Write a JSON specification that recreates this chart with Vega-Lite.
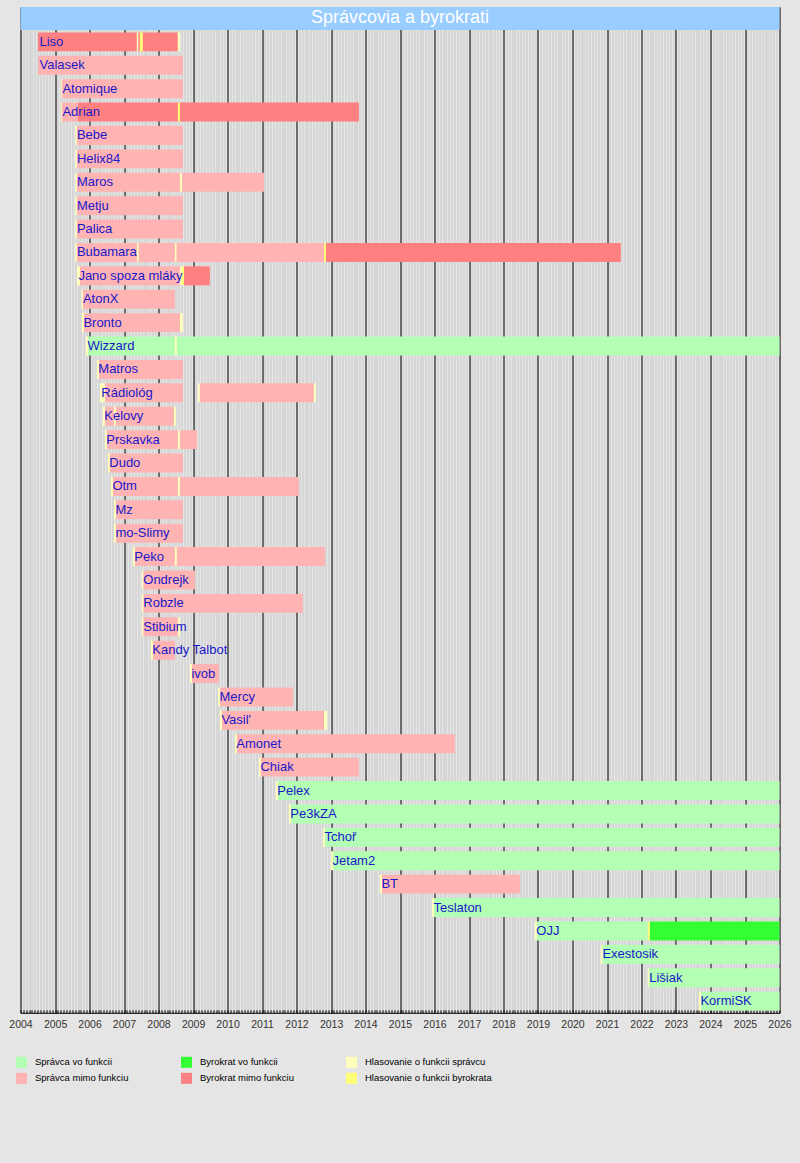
{
  "$schema": "https://vega.github.io/schema/vega-lite/v6.json",
  "width": 759,
  "height": 1006,
  "autosize": {"type": "none"},
  "padding": {"left": 20.5, "top": 6.8, "right": 20.5, "bottom": 150.2},
  "background": "#e5e5e5",
  "config": {"view": {"stroke": null}, "font": "Liberation Sans"},
  "datasets": {
    "bars": [
      {"name": "Liso", "start": "2004-07-04", "end": "2008-07-24", "type": "Byrokrat mimo funkciu"},
      {"name": "Valasek", "start": "2004-07-04", "end": "2008-09-16", "type": "Správca mimo funkciu"},
      {"name": "Atomique", "start": "2005-03-13", "end": "2008-09-16", "type": "Správca mimo funkciu"},
      {"name": "Adrian", "start": "2005-03-13", "end": "2005-09-01", "type": "Správca mimo funkciu"},
      {"name": "Adrian", "start": "2005-09-01", "end": "2013-10-23", "type": "Byrokrat mimo funkciu"},
      {"name": "Bebe", "start": "2005-08-20", "end": "2008-09-16", "type": "Správca mimo funkciu"},
      {"name": "Helix84", "start": "2005-08-20", "end": "2008-09-16", "type": "Správca mimo funkciu"},
      {"name": "Maros", "start": "2005-08-20", "end": "2011-01-22", "type": "Správca mimo funkciu"},
      {"name": "Metju", "start": "2005-08-20", "end": "2008-09-16", "type": "Správca mimo funkciu"},
      {"name": "Palica", "start": "2005-08-20", "end": "2008-09-16", "type": "Správca mimo funkciu"},
      {"name": "Bubamara", "start": "2005-08-20", "end": "2012-11-08", "type": "Správca mimo funkciu"},
      {"name": "Bubamara", "start": "2012-11-08", "end": "2021-05-27", "type": "Byrokrat mimo funkciu"},
      {"name": "Jano spoza mláky", "start": "2005-09-22", "end": "2008-08-15", "type": "Správca mimo funkciu"},
      {"name": "Jano spoza mláky", "start": "2008-09-27", "end": "2009-06-28", "type": "Byrokrat mimo funkciu"},
      {"name": "AtonX", "start": "2005-10-23", "end": "2008-06-23", "type": "Správca mimo funkciu"},
      {"name": "Bronto", "start": "2005-11-03", "end": "2008-09-16", "type": "Správca mimo funkciu"},
      {"name": "Wizzard", "start": "2005-12-15", "end": "2026-01-01", "type": "Správca vo funkcii"},
      {"name": "Matros", "start": "2006-04-10", "end": "2008-09-16", "type": "Správca mimo funkciu"},
      {"name": "Rádiológ", "start": "2006-06-12", "end": "2008-09-16", "type": "Správca mimo funkciu"},
      {"name": "Rádiológ", "start": "2009-03-13", "end": "2012-07-03", "type": "Správca mimo funkciu"},
      {"name": "Kelovy", "start": "2006-06-12", "end": "2008-06-12", "type": "Správca mimo funkciu"},
      {"name": "Prskavka", "start": "2006-07-03", "end": "2009-02-12", "type": "Správca mimo funkciu"},
      {"name": "Dudo", "start": "2006-08-04", "end": "2008-09-16", "type": "Správca mimo funkciu"},
      {"name": "Otm", "start": "2006-09-06", "end": "2012-01-27", "type": "Správca mimo funkciu"},
      {"name": "Mz", "start": "2006-10-07", "end": "2008-09-16", "type": "Správca mimo funkciu"},
      {"name": "mo-Slimy", "start": "2006-10-07", "end": "2008-09-16", "type": "Správca mimo funkciu"},
      {"name": "Peko", "start": "2007-04-25", "end": "2012-10-28", "type": "Správca mimo funkciu"},
      {"name": "Ondrejk", "start": "2007-07-24", "end": "2009-01-22", "type": "Správca mimo funkciu"},
      {"name": "Robzle", "start": "2007-07-24", "end": "2012-03-08", "type": "Správca mimo funkciu"},
      {"name": "Stibium", "start": "2007-07-24", "end": "2008-07-24", "type": "Správca mimo funkciu"},
      {"name": "Kandy Talbot", "start": "2007-11-03", "end": "2008-06-23", "type": "Správca mimo funkciu"},
      {"name": "ivob", "start": "2008-12-20", "end": "2009-10-02", "type": "Správca mimo funkciu"},
      {"name": "Mercy", "start": "2009-10-12", "end": "2011-11-24", "type": "Správca mimo funkciu"},
      {"name": "Vasil'", "start": "2009-11-03", "end": "2012-10-18", "type": "Správca mimo funkciu"},
      {"name": "Amonet", "start": "2010-04-10", "end": "2016-08-04", "type": "Správca mimo funkciu"},
      {"name": "Chiak", "start": "2010-12-20", "end": "2013-10-23", "type": "Správca mimo funkciu"},
      {"name": "Pelex", "start": "2011-06-18", "end": "2026-01-01", "type": "Správca vo funkcii"},
      {"name": "Pe3kZA", "start": "2011-11-03", "end": "2026-01-01", "type": "Správca vo funkcii"},
      {"name": "Tchoř", "start": "2012-10-28", "end": "2026-01-01", "type": "Správca vo funkcii"},
      {"name": "Jetam2", "start": "2013-01-22", "end": "2026-01-01", "type": "Správca vo funkcii"},
      {"name": "BT", "start": "2014-06-23", "end": "2018-06-23", "type": "Správca mimo funkciu"},
      {"name": "Teslaton", "start": "2015-12-26", "end": "2026-01-01", "type": "Správca vo funkcii"},
      {"name": "OJJ", "start": "2018-12-20", "end": "2022-03-08", "type": "Správca vo funkcii"},
      {"name": "OJJ", "start": "2022-03-29", "end": "2026-01-01", "type": "Byrokrat vo funkcii"},
      {"name": "Exestosik", "start": "2020-11-14", "end": "2026-01-01", "type": "Správca vo funkcii"},
      {"name": "Lišiak", "start": "2022-03-22", "end": "2026-01-01", "type": "Správca vo funkcii"},
      {"name": "KormiSK", "start": "2023-09-22", "end": "2026-01-01", "type": "Správca vo funkcii"},

      {"name": "Liso", "start": "2007-05-16", "end": "2007-06-02", "type": "Hlasovanie o funkcii správcu"},
      {"name": "Liso", "start": "2007-06-18", "end": "2007-07-19", "type": "Hlasovanie o funkcii byrokrata"},
      {"name": "Liso", "start": "2008-07-24", "end": "2008-08-15", "type": "Hlasovanie o funkcii správcu"},
      {"name": "Atomique", "start": "2005-03-04", "end": "2005-03-13", "type": "Hlasovanie o funkcii správcu"},
      {"name": "Adrian", "start": "2005-03-04", "end": "2005-03-13", "type": "Hlasovanie o funkcii správcu"},
      {"name": "Adrian", "start": "2008-07-24", "end": "2008-08-15", "type": "Hlasovanie o funkcii byrokrata"},
      {"name": "Bebe", "start": "2005-08-04", "end": "2005-08-20", "type": "Hlasovanie o funkcii správcu"},
      {"name": "Helix84", "start": "2005-08-04", "end": "2005-08-20", "type": "Hlasovanie o funkcii správcu"},
      {"name": "Maros", "start": "2005-08-04", "end": "2005-08-20", "type": "Hlasovanie o funkcii správcu"},
      {"name": "Maros", "start": "2008-08-15", "end": "2008-09-06", "type": "Hlasovanie o funkcii správcu"},
      {"name": "Metju", "start": "2005-08-04", "end": "2005-08-20", "type": "Hlasovanie o funkcii správcu"},
      {"name": "Palica", "start": "2005-08-04", "end": "2005-08-20", "type": "Hlasovanie o funkcii správcu"},
      {"name": "Bubamara", "start": "2005-08-04", "end": "2005-08-20", "type": "Hlasovanie o funkcii správcu"},
      {"name": "Bubamara", "start": "2007-05-18", "end": "2007-06-05", "type": "Hlasovanie o funkcii správcu"},
      {"name": "Bubamara", "start": "2008-06-23", "end": "2008-07-10", "type": "Hlasovanie o funkcii správcu"},
      {"name": "Bubamara", "start": "2012-10-18", "end": "2012-11-08", "type": "Hlasovanie o funkcii byrokrata"},
      {"name": "Jano spoza mláky", "start": "2005-08-20", "end": "2005-09-22", "type": "Hlasovanie o funkcii správcu"},
      {"name": "Jano spoza mláky", "start": "2008-08-15", "end": "2008-09-06", "type": "Hlasovanie o funkcii správcu"},
      {"name": "Jano spoza mláky", "start": "2008-09-06", "end": "2008-09-27", "type": "Hlasovanie o funkcii byrokrata"},
      {"name": "AtonX", "start": "2005-10-07", "end": "2005-10-23", "type": "Hlasovanie o funkcii správcu"},
      {"name": "Bronto", "start": "2005-10-12", "end": "2005-11-03", "type": "Hlasovanie o funkcii správcu"},
      {"name": "Bronto", "start": "2008-08-15", "end": "2008-09-16", "type": "Hlasovanie o funkcii správcu"},
      {"name": "Wizzard", "start": "2005-11-24", "end": "2005-12-15", "type": "Hlasovanie o funkcii správcu"},
      {"name": "Wizzard", "start": "2008-06-23", "end": "2008-07-13", "type": "Hlasovanie o funkcii správcu"},
      {"name": "Matros", "start": "2006-03-19", "end": "2006-04-10", "type": "Hlasovanie o funkcii správcu"},
      {"name": "Rádiológ", "start": "2006-04-20", "end": "2006-06-12", "type": "Hlasovanie o funkcii správcu"},
      {"name": "Rádiológ", "start": "2009-02-23", "end": "2009-03-13", "type": "Hlasovanie o funkcii správcu"},
      {"name": "Rádiológ", "start": "2012-07-03", "end": "2012-07-24", "type": "Hlasovanie o funkcii správcu"},
      {"name": "Kelovy", "start": "2006-05-21", "end": "2006-06-12", "type": "Hlasovanie o funkcii správcu"},
      {"name": "Kelovy", "start": "2006-09-16", "end": "2006-10-07", "type": "Hlasovanie o funkcii správcu"},
      {"name": "Kelovy", "start": "2008-06-12", "end": "2008-07-03", "type": "Hlasovanie o funkcii správcu"},
      {"name": "Prskavka", "start": "2006-06-12", "end": "2006-07-03", "type": "Hlasovanie o funkcii správcu"},
      {"name": "Prskavka", "start": "2008-07-24", "end": "2008-08-15", "type": "Hlasovanie o funkcii správcu"},
      {"name": "Dudo", "start": "2006-07-13", "end": "2006-08-04", "type": "Hlasovanie o funkcii správcu"},
      {"name": "Otm", "start": "2006-08-15", "end": "2006-09-06", "type": "Hlasovanie o funkcii správcu"},
      {"name": "Otm", "start": "2008-07-24", "end": "2008-08-15", "type": "Hlasovanie o funkcii správcu"},
      {"name": "Mz", "start": "2006-09-16", "end": "2006-10-07", "type": "Hlasovanie o funkcii správcu"},
      {"name": "mo-Slimy", "start": "2006-09-16", "end": "2006-10-07", "type": "Hlasovanie o funkcii správcu"},
      {"name": "Peko", "start": "2007-04-04", "end": "2007-04-25", "type": "Hlasovanie o funkcii správcu"},
      {"name": "Peko", "start": "2008-06-23", "end": "2008-07-13", "type": "Hlasovanie o funkcii správcu"},
      {"name": "Ondrejk", "start": "2007-07-08", "end": "2007-07-24", "type": "Hlasovanie o funkcii správcu"},
      {"name": "Robzle", "start": "2007-07-08", "end": "2007-07-24", "type": "Hlasovanie o funkcii správcu"},
      {"name": "Stibium", "start": "2007-07-08", "end": "2007-07-24", "type": "Hlasovanie o funkcii správcu"},
      {"name": "Stibium", "start": "2008-07-24", "end": "2008-08-15", "type": "Hlasovanie o funkcii správcu"},
      {"name": "Kandy Talbot", "start": "2007-10-12", "end": "2007-11-03", "type": "Hlasovanie o funkcii správcu"},
      {"name": "ivob", "start": "2008-11-29", "end": "2008-12-20", "type": "Hlasovanie o funkcii správcu"},
      {"name": "Mercy", "start": "2009-09-22", "end": "2009-10-12", "type": "Hlasovanie o funkcii správcu"},
      {"name": "Vasil'", "start": "2009-10-12", "end": "2009-11-03", "type": "Hlasovanie o funkcii správcu"},
      {"name": "Vasil'", "start": "2012-10-18", "end": "2012-11-19", "type": "Hlasovanie o funkcii správcu"},
      {"name": "Amonet", "start": "2010-03-19", "end": "2010-04-10", "type": "Hlasovanie o funkcii správcu"},
      {"name": "Chiak", "start": "2010-11-29", "end": "2010-12-20", "type": "Hlasovanie o funkcii správcu"},
      {"name": "Pelex", "start": "2011-05-27", "end": "2011-06-18", "type": "Hlasovanie o funkcii správcu"},
      {"name": "Pe3kZA", "start": "2011-10-12", "end": "2011-11-03", "type": "Hlasovanie o funkcii správcu"},
      {"name": "Tchoř", "start": "2012-10-07", "end": "2012-10-28", "type": "Hlasovanie o funkcii správcu"},
      {"name": "Jetam2", "start": "2013-01-01", "end": "2013-01-22", "type": "Hlasovanie o funkcii správcu"},
      {"name": "BT", "start": "2014-06-02", "end": "2014-06-23", "type": "Hlasovanie o funkcii správcu"},
      {"name": "Teslaton", "start": "2015-12-05", "end": "2015-12-26", "type": "Hlasovanie o funkcii správcu"},
      {"name": "OJJ", "start": "2018-11-29", "end": "2018-12-20", "type": "Hlasovanie o funkcii správcu"},
      {"name": "OJJ", "start": "2022-03-08", "end": "2022-03-29", "type": "Hlasovanie o funkcii byrokrata"},
      {"name": "Exestosik", "start": "2020-10-28", "end": "2020-11-14", "type": "Hlasovanie o funkcii správcu"},
      {"name": "Lišiak", "start": "2022-03-08", "end": "2022-03-22", "type": "Hlasovanie o funkcii správcu"},
      {"name": "KormiSK", "start": "2023-09-01", "end": "2023-09-22", "type": "Hlasovanie o funkcii správcu"}
    ],
    "header": [
      {"name": "__title__", "start": "2004-01-01", "end": "2026-01-01", "mid": "2015-01-01", "label": "Správcovia a byrokrati"}
    ]
  },
  "resolve": {"axis": {"x": "independent"}},
  "layer": [
    {
      "data": {"name": "bars"},
      "mark": {"type": "bar", "height": {"band": 0.81}},
      "encoding": {
        "x": {
          "field": "start", "type": "temporal",
          "scale": {"type": "utc", "domain": [{"year": 2004, "month": 1, "date": 1, "utc": true}, {"year": 2026, "month": 1, "date": 1, "utc": true}], "nice": false},
          "axis": {"orient": "bottom", "tickCount": {"interval": "month", "step": 1}, "grid": true, "gridColor": "#c8c8c8", "gridOpacity": 1, "gridWidth": 1, "labels": false, "domain": false, "ticks": true, "tickSize": -3, "tickColor": "#000000", "tickWidth": 1, "title": null}
        },
        "x2": {"field": "end"},
        "y": {
          "field": "name", "type": "nominal",
          "scale": {"domain": ["__title__", "Liso", "Valasek", "Atomique", "Adrian", "Bebe", "Helix84", "Maros", "Metju", "Palica", "Bubamara", "Jano spoza mláky", "AtonX", "Bronto", "Wizzard", "Matros", "Rádiológ", "Kelovy", "Prskavka", "Dudo", "Otm", "Mz", "mo-Slimy", "Peko", "Ondrejk", "Robzle", "Stibium", "Kandy Talbot", "ivob", "Mercy", "Vasil'", "Amonet", "Chiak", "Pelex", "Pe3kZA", "Tchoř", "Jetam2", "BT", "Teslaton", "OJJ", "Exestosik", "Lišiak", "KormiSK"], "paddingInner": 0, "paddingOuter": 0},
          "axis": null
        },
        "color": {
          "field": "type", "type": "nominal",
          "scale": {
            "domain": ["Správca vo funkcii", "Správca mimo funkciu", "Byrokrat vo funkcii", "Byrokrat mimo funkciu", "Hlasovanie o funkcii správcu", "Hlasovanie o funkcii byrokrata"],
            "range": ["#b3ffb3", "#ffb3b3", "#33ff33", "#ff8080", "#ffffbb", "#ffff77"]
          },
          "legend": {
            "title": null, "orient": "none", "legendX": -4.5, "legendY": 1050, "columns": 3, "columnPadding": 52, "rowPadding": 5,
            "symbolType": "square", "symbolSize": 121, "symbolStrokeWidth": 0, "symbolOpacity": 1,
            "labelFontSize": 9.5, "labelFont": "Liberation Sans", "labelColor": "#000000", "labelOffset": 8, "padding": 0, "labelLimit": 300
          }
        }
      }
    },
    {
      "data": {"name": "header"},
      "mark": {"type": "bar", "height": {"band": 0.98}, "color": "#99ccff"},
      "encoding": {
        "x": {
          "field": "start", "type": "temporal",
          "scale": {"type": "utc", "domain": [{"year": 2004, "month": 1, "date": 1, "utc": true}, {"year": 2026, "month": 1, "date": 1, "utc": true}], "nice": false},
          "axis": {"orient": "bottom", "tickCount": {"interval": "year", "step": 1}, "format": "%Y", "grid": true, "gridColor": "#000000", "gridOpacity": 1, "gridWidth": 1, "ticks": false, "domain": true, "domainColor": "#000000", "domainWidth": 1, "labelFontSize": 10.5, "labelFont": "Liberation Sans", "labelColor": "#333333", "labelPadding": 7, "labelFlush": false, "labelOverlap": false, "title": null}
        },
        "x2": {"field": "end"},
        "y": {"field": "name", "type": "nominal", "axis": null}
      }
    },
    {
      "data": {"name": "header"},
      "mark": {"type": "text", "color": "#ffffff", "fontSize": 18, "font": "Liberation Sans", "align": "center", "baseline": "middle"},
      "encoding": {
        "x": {"field": "mid", "type": "temporal", "axis": null},
        "y": {"field": "name", "type": "nominal", "axis": null},
        "text": {"field": "label"}
      }
    },
    {
      "data": {"name": "bars"},
      "mark": {"type": "text", "color": "#1818c8", "fontSize": 13, "font": "Liberation Sans", "align": "left", "baseline": "middle", "dx": 1.5},
      "encoding": {
        "x": {"aggregate": "min", "field": "start", "type": "temporal", "axis": null},
        "y": {"field": "name", "type": "nominal", "axis": null},
        "text": {"field": "name"}
      }
    }
  ]
}
